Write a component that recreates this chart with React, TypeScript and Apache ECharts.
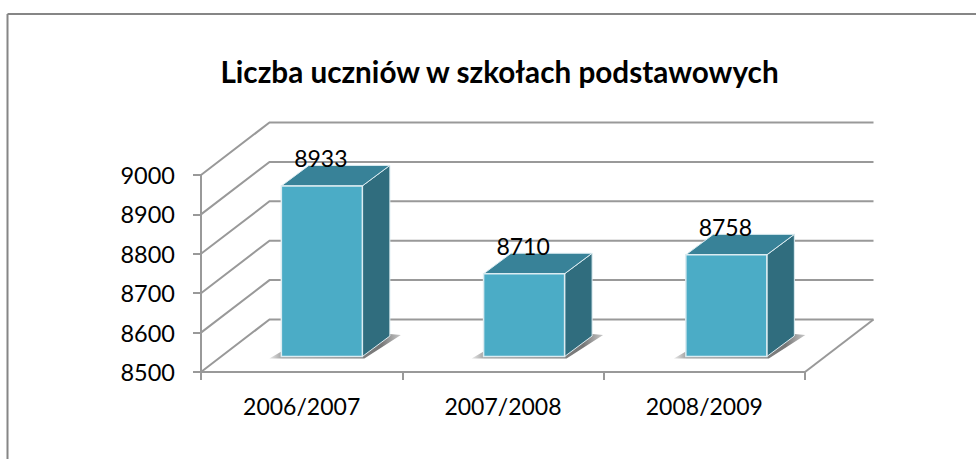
import React, { useEffect, useRef } from "react";
import * as echarts from "echarts";

const categories = ["2006/2007", "2007/2008", "2008/2009"];
const values = [8933, 8710, 8758];
const yTicks = [8500, 8600, 8700, 8800, 8900, 9000];
const titleText = "Liczba uczniów w szkołach podstawowych";

const FONT = "Lato";
const WALL_DX = 68.5;
const WALL_DY = -52.5;
const BAR_DX = 20.2;
const BAR_STEP_EXTRA = 0.9;
const BAR_DY = -15.5;
const BAR_W = 81;
const SIDE_DX = 27.5;
const SIDE_DY = -20.5;
const AXIS = "#999999";

export default function App() {
  const ref = useRef<HTMLDivElement>(null);
  useEffect(() => {
    const chart = echarts.init(ref.current!, undefined, { renderer: "svg" });
    chart.setOption({
      animation: false,
      backgroundColor: "#ffffff",
      title: {
        text: titleText,
        left: 494.5,
        top: 51,
        textAlign: "center",
        textStyle: { fontFamily: FONT, fontSize: 29.7, fontWeight: "bold", color: "#000000" },
      },
      grid: { left: 201, top: 175, width: 604, height: 197 },
      xAxis: {
        type: "category",
        data: categories,
        axisLine: { lineStyle: { color: AXIS, width: 2 } },
        axisTick: { show: true, length: 8, lineStyle: { color: AXIS, width: 2 } },
        axisLabel: { margin: 22, fontFamily: FONT, fontSize: 23, color: "#000000" },
      },
      yAxis: {
        type: "value",
        min: 8500,
        max: 9000,
        interval: 100,
        splitLine: { show: false },
        axisLine: { show: true, lineStyle: { color: AXIS, width: 2 } },
        axisTick: { show: true, length: 8, lineStyle: { color: AXIS, width: 2 } },
        axisLabel: {
          margin: 26,
          fontFamily: FONT,
          fontSize: 23.5,
          color: "#000000",
          formatter: (v: number) => String(v),
        },
      },
      graphic: [
        { type: "line", silent: true, shape: { x1: 7.5, y1: 14, x2: 976, y2: 14 }, style: { stroke: "#868686", lineWidth: 2 } },
        { type: "line", silent: true, shape: { x1: 7.5, y1: 14, x2: 7.5, y2: 459 }, style: { stroke: "#868686", lineWidth: 2 } },
      ],
      series: [
        {
          type: "custom",
          clip: false,
          silent: true,
          z: 1,
          data: yTicks.map((v) => [0, v]),
          encode: { x: 0, y: 1 },
          renderItem: (params: any, api: any) => {
            const cs = params.coordSys;
            const v = api.value(1);
            const y = api.coord([0, v])[1];
            const left = cs.x;
            const right = cs.x + cs.width;
            const wall = {
              type: "polyline",
              shape: { points: [[left, y], [left + WALL_DX, y + WALL_DY], [right + WALL_DX, y + WALL_DY]] },
              style: { stroke: AXIS, lineWidth: 2, fill: "none" },
            };
            const children: any[] = [wall];
            if (v === yTicks[0]) {
              children.push({
                type: "line",
                shape: { x1: right, y1: y, x2: right + WALL_DX, y2: y + WALL_DY },
                style: { stroke: AXIS, lineWidth: 2 },
              });
            }
            return { type: "group", children };
          },
        },
        {
          type: "custom",
          clip: false,
          silent: true,
          z: 2,
          data: values.map((v, i) => [i, v]),
          encode: { x: 0, y: 1 },
          renderItem: (params: any, api: any) => {
            const i = api.value(0);
            const v = api.value(1);
            const top = api.coord([i, v]);
            const base = api.coord([i, yTicks[0]]);
            const x0 = top[0] + BAR_DX + i * BAR_STEP_EXTRA - BAR_W / 2;
            const x1 = x0 + BAR_W;
            const yT = top[1] + BAR_DY;
            const yB = base[1] + BAR_DY;
            const edge = "#dcecf1";
            return {
              type: "group",
              children: [
                {
                  type: "polygon",
                  shape: {
                    points: [
                      [x0 - 12, yB + 2],
                      [x1 + 2, yB + 2],
                      [x1 + SIDE_DX + 11, yB + SIDE_DY - 1],
                      [x1 + SIDE_DX, yB + SIDE_DY - 2],
                      [x1, yB - 5],
                      [x0, yB - 5],
                    ],
                  },
                  style: {
                    fill: new echarts.graphic.LinearGradient(0, 0, 1, 0, [
                      { offset: 0, color: "#e8e8e8" },
                      { offset: 0.1, color: "#a0a0a0" },
                      { offset: 0.85, color: "#777777" },
                      { offset: 1, color: "#c8c8c8" },
                    ]),
                  },
                },
                {
                  type: "polygon",
                  shape: {
                    points: [[x1, yT], [x1 + SIDE_DX, yT + SIDE_DY], [x1 + SIDE_DX, yB + SIDE_DY], [x1, yB]],
                  },
                  style: { fill: "#306d7e", stroke: edge, lineWidth: 1 },
                },
                {
                  type: "polygon",
                  shape: {
                    points: [[x0, yT], [x0 + SIDE_DX, yT + SIDE_DY], [x1 + SIDE_DX, yT + SIDE_DY], [x1, yT]],
                  },
                  style: { fill: "#388298", stroke: edge, lineWidth: 1 },
                },
                {
                  type: "rect",
                  shape: { x: x0, y: yT, width: BAR_W, height: yB - yT },
                  style: { fill: "#4bacc6", stroke: edge, lineWidth: 1.5 },
                },
                {
                  type: "text",
                  style: {
                    x: x0 + BAR_W / 2 - 1,
                    y: yT - 27.5,
                    text: String(v),
                    align: "center",
                    verticalAlign: "middle",
                    fontFamily: FONT,
                    fontSize: 23,
                    fill: "#000000",
                  },
                },
              ],
            };
          },
        },
      ],
    });
    return () => chart.dispose();
  }, []);
  return <div ref={ref} style={{ position: "fixed", left: 0, top: 0, width: 976, height: 459 }} />;
}
